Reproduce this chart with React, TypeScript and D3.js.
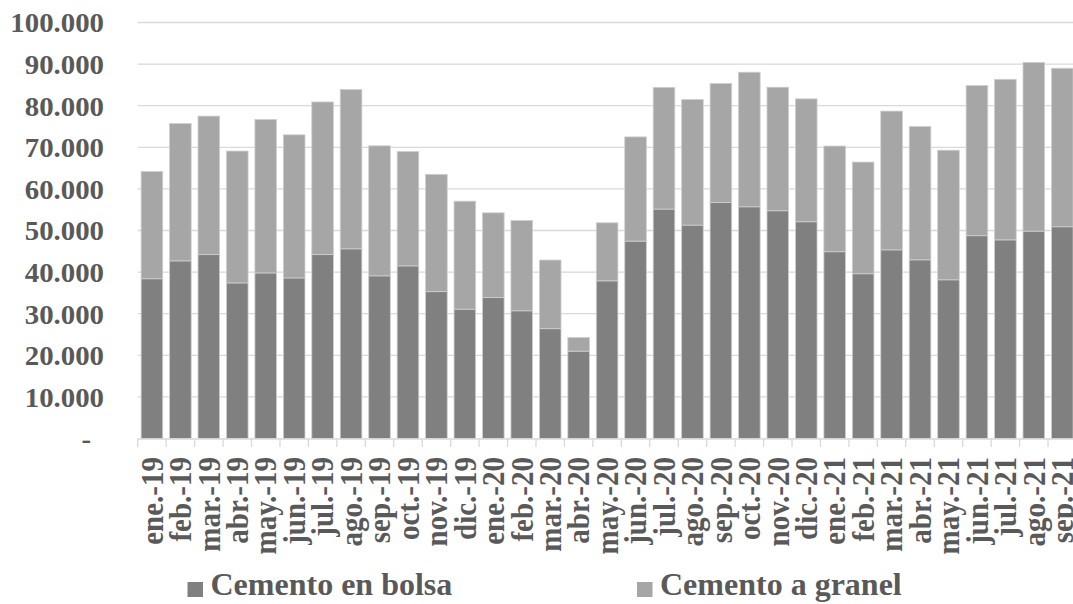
import { useRef, useEffect } from "react";
import { select, scaleBand, scaleLinear, stack, axisBottom } from "d3";

const months = [
  "ene.-19", "feb.-19", "mar.-19", "abr.-19", "may.-19", "jun.-19", "jul.-19", "ago.-19",
  "sep.-19", "oct.-19", "nov.-19", "dic.-19", "ene.-20", "feb.-20", "mar.-20", "abr.-20",
  "may.-20", "jun.-20", "jul.-20", "ago.-20", "sep.-20", "oct.-20", "nov.-20", "dic.-20",
  "ene.-21", "feb.-21", "mar.-21", "abr.-21", "may.-21", "jun.-21", "jul.-21", "ago.-21",
  "sep.-21",
];

const bolsa = [
  38400, 42700, 44200, 37400, 39800, 38600, 44200, 45600,
  39100, 41500, 35300, 31100, 33900, 30700, 26400, 21000,
  37900, 47450, 55150, 51300, 56750, 55700, 54750, 52100,
  44900, 39600, 45350, 42950, 38150, 48750, 47750, 49850,
  50900,
];

const granel = [
  25800, 33000, 33300, 31700, 36900, 34400, 36700, 38300,
  31250, 27500, 28200, 25950, 20350, 21700, 16500, 3300,
  13950, 25050, 29250, 30200, 28600, 32350, 29700, 29550,
  25400, 26850, 33350, 32050, 31150, 36100, 38600, 40550,
  38100,
];

const yTicks = [0, 10000, 20000, 30000, 40000, 50000, 60000, 70000, 80000, 90000, 100000];
const seriesNames = ["Cemento en bolsa", "Cemento a granel"];
const colors = ["#808080", "#a6a6a6"];

const fmt = (v: number) => (v === 0 ? "-" : v.toLocaleString("de-DE"));

export default function App() {
  const svgRef = useRef<SVGSVGElement | null>(null);
  const width = 1073;
  const height = 604;

  useEffect(() => {
    if (!svgRef.current) return;
    const svg = select(svgRef.current);
    svg.selectAll("*").remove();

    const font = "'Liberation Serif', 'Times New Roman', serif";
    const textColor = "#595959";

    const x = scaleBand<string>()
      .domain(months)
      .range([137.7, 1076.5])
      .paddingInner(0.24)
      .paddingOuter(0.12);

    const y = scaleLinear().domain([0, 100000]).range([438.5, 22.5]);

    const rows = months.map((m, i) => ({ month: m, bolsa: bolsa[i], granel: granel[i] }));
    const layers = stack<any>().keys(["bolsa", "granel"])(rows);

    // gridlines
    svg
      .append("g")
      .selectAll("line")
      .data(yTicks.filter((t) => t > 0))
      .join("line")
      .attr("x1", 137.7)
      .attr("x2", width)
      .attr("y1", (d) => y(d))
      .attr("y2", (d) => y(d))
      .attr("stroke", "#d9d9d9")
      .attr("stroke-width", 1.3);

    // y labels
    svg
      .append("g")
      .selectAll("text")
      .data(yTicks)
      .join("text")
      .attr("transform", (d) => `translate(${d === 0 ? 91 : 104}, ${y(d)}) scale(1.03, 1)`)
      .attr("dy", "0.35em")
      .attr("text-anchor", "end")
      .attr("font-family", font)
      .attr("font-weight", "bold")
      .attr("font-size", 28)
      .attr("fill", textColor)
      .text((d) => fmt(d));

    // bars
    svg
      .append("g")
      .selectAll("g")
      .data(layers)
      .join("g")
      .attr("fill", (_d, i) => colors[i])
      .selectAll("rect")
      .data((d) => d)
      .join("rect")
      .attr("x", (d: any) => x(d.data.month)!)
      .attr("width", x.bandwidth())
      .attr("y", (d: any) => y(d[1]))
      .attr("height", (d: any) => y(d[0]) - y(d[1]))
      .attr("stroke", "#cfcfcf")
      .attr("stroke-width", 0.8);

    // x axis
    const xAxis = svg
      .append("g")
      .attr("transform", `translate(0, ${y(0)})`)
      .call(axisBottom(x).tickSize(0).tickFormat(() => ""));
    xAxis.select(".domain").attr("stroke", "#d9d9d9").attr("stroke-width", 1.3);

    // tick marks at band boundaries
    const bounds = months.map((m) => x(m)! - (x.step() * 0.24) / 2);
    bounds.push(1076.5);
    svg
      .append("g")
      .selectAll("line")
      .data(bounds)
      .join("line")
      .attr("x1", (d) => d)
      .attr("x2", (d) => d)
      .attr("y1", y(0))
      .attr("y2", y(0) + 8.5)
      .attr("stroke", "#d9d9d9")
      .attr("stroke-width", 1.3);

    // x labels
    svg
      .append("g")
      .selectAll("text")
      .data(months)
      .join("text")
      .attr(
        "transform",
        (d) => `translate(${x(d)! + x.bandwidth() / 2}, 457) scale(1.06, 1) rotate(-90)`
      )
      .attr("dy", "0.35em")
      .attr("text-anchor", "end")
      .attr("font-family", font)
      .attr("font-weight", "bold")
      .attr("font-size", 29)
      .attr("fill", textColor)
      .text((d) => d);

    // legend
    const legendX = [187.5, 637];
    const legend = svg
      .append("g")
      .selectAll("g")
      .data(seriesNames)
      .join("g")
      .attr("transform", (_d, i) => `translate(${legendX[i]}, 0)`);
    legend
      .append("rect")
      .attr("x", 0)
      .attr("y", 582)
      .attr("width", 15.5)
      .attr("height", 15)
      .attr("fill", (_d, i) => colors[i]);
    legend
      .append("text")
      .attr("x", 23)
      .attr("y", 595)
      .attr("font-family", font)
      .attr("font-weight", "bold")
      .attr("font-size", 32)
      .attr("fill", textColor)
      .text((d) => d);
  }, []);

  return (
    <svg
      ref={svgRef}
      width={width}
      height={height}
      viewBox={`0 0 ${width} ${height}`}
      style={{ position: "absolute", left: 0, top: 0, background: "#fff" }}
    ></svg>
  );
}
